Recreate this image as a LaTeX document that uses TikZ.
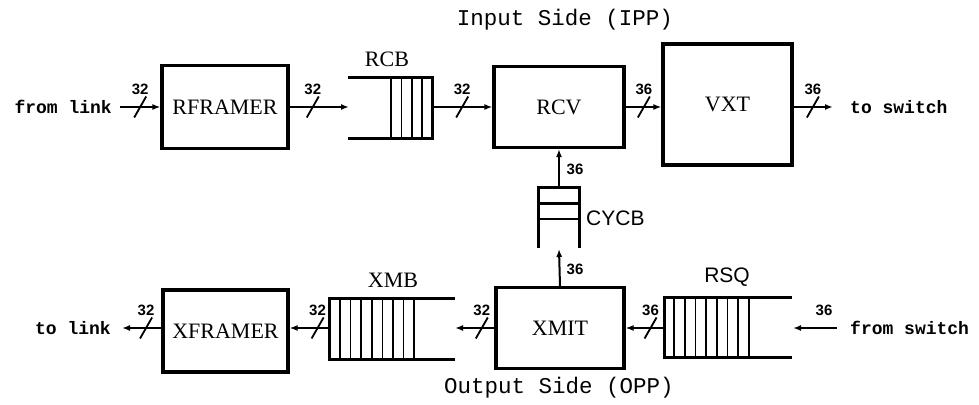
\documentclass[tikz,border=0pt]{standalone}
\usepackage{fontspec}
\setmainfont{Liberation Serif}
\newfontfamily\numfont{Liberation Sans}
\newfontfamily\monofont{Liberation Mono}
\usetikzlibrary{arrows.meta}
\tikzset{
  blk/.style={draw, line width=3.2pt, inner sep=0pt, font=\fontsize{22}{24}\selectfont},
  conn/.style={line width=2pt, -{Latex[length=8pt,width=6pt]}},
  qst/.style={line width=3pt},
  qinst/.style={line width=1.7pt},
  slashst/.style={line width=1.8pt},
  num/.style={font=\numfont\bfseries\fontsize{15}{16}\selectfont, inner sep=0pt},
  io/.style={font=\monofont\bfseries\fontsize{18}{20}\selectfont, inner sep=0pt},
  ttl/.style={font=\monofont\fontsize{22.5}{24}\selectfont, inner sep=0pt},
  qlabel/.style={font=\fontsize{22}{24}\selectfont, inner sep=0pt},
  qlabelsf/.style={font=\numfont\fontsize{21}{23}\selectfont, inner sep=0pt}
}
\newcommand\busmark[2]{%
  \draw[slashst] ([shift={(-6,10.5)}]#1) -- ([shift={(6,-10.5)}]#1);
  \node[num] (#1l) at ([shift={(0,-18)}]#1) {#2};}
\begin{document}
\begin{tikzpicture}[x=1pt,y=-1pt]
\useasboundingbox (0,0) rectangle (979,404);

% titles
\node[ttl] (tin) at (565,20) {Input Side (IPP)};
\node[ttl] (tout) at (559,388) {Output Side (OPP)};

% blocks
\node[blk, minimum width=126pt, minimum height=83pt] (rframer) at (225,107) {RFRAMER};
\node[blk, minimum width=130pt, minimum height=81pt] (rcv) at (559,107) {RCV};
\node[blk, minimum width=129pt, minimum height=121pt] (vxt) at (727.5,104.5) {VXT};
\node[blk, minimum width=125pt, minimum height=82pt] (xframer) at (225.5,331) {XFRAMER};
\node[blk, minimum width=128pt, minimum height=81pt] (xmit) at (560,328) {XMIT};

% RCB queue
\draw[qst] (348,77) -- (432,77) -- (432,138) -- (348,138);
\foreach \x in {391,401.5,412,422} \draw[qinst] (\x,77) -- (\x,138);
\coordinate (rcbin) at (349,107);
\coordinate (rcbout) at (432,107);
\node[qlabel] (rcblbl) at (387,59) {RCB};

% CYCB queue
\draw[qst] (538,248) -- (538,187) -- (579,187) -- (579,248);
\draw[qst] (538,203) -- (579,203);
\draw[qinst] (538,219) -- (579,219);
\coordinate (cycbtop) at (559,187);
\coordinate (cycbin) at (559,249);
\node[qlabelsf, anchor=west] (cycblbl) at (586,218) {CYCB};

% XMB queue
\draw[qst] (455,298) -- (329,298) -- (329,359) -- (455,359);
\foreach \i in {0,...,7} \draw[qinst] (340+10.6*\i,298) -- (340+10.6*\i,359);
\coordinate (xmbin) at (455,328);
\coordinate (xmbout) at (329,328);
\node[qlabel] (xmblbl) at (393,280) {XMB};

% RSQ queue
\draw[qst] (792,297) -- (664,297) -- (664,357) -- (792,357);
\foreach \i in {0,...,7} \draw[qinst] (674+10.7*\i,297) -- (674+10.7*\i,357);
\coordinate (rsqin) at (793,328);
\coordinate (rsqout) at (664,328);
\node[qlabelsf] (rsqlbl) at (727,277) {RSQ};

% external texts
\node[io, anchor=east] (fromlink) at (112,107) {from link};
\node[io, anchor=west] (toswitch) at (850,107) {to switch};
\node[io, anchor=east] (tolink) at (111,328) {to link};
\node[io, anchor=west] (fromswitch) at (850,328) {from switch};

% input side connectors
\draw[conn] ([xshift=8pt]fromlink.east) -- (rframer.west |- fromlink.east) coordinate[pos=.5] (b1);
\busmark{b1}{32}
\draw[conn] (rframer.east) -- (rcbin) coordinate[pos=.39] (b2);
\busmark{b2}{32}
\draw[conn] (rcbout) -- (rcv.west |- rcbout) coordinate[pos=.5] (b3);
\busmark{b3}{32}
\draw[conn] (rcv.east) -- (vxt.west |- rcv.east) coordinate[pos=.51] (b4);
\busmark{b4}{36}
\draw[conn] (vxt.east |- rcv.east) -- ([xshift=-17pt]toswitch.west) coordinate[pos=.49] (b5);
\busmark{b5}{36}

% vertical connectors
\draw[conn] (cycbtop) -- (rcv.south);
\node[num] (l6) at (575,169) {36};
\draw[conn] (xmit.north) -- (cycbin);
\node[num] (l7) at (575,269) {36};

% output side connectors
\draw[conn] (xmit.west |- xmbin) -- (xmbin) coordinate[pos=.32] (b8);
\busmark{b8}{32}
\draw[conn] (xmbout) -- (xframer.east |- xmbout) coordinate[pos=.29] (b9);
\busmark{b9}{32}
\draw[conn] (xframer.west |- xmbout) -- ([xshift=11pt]tolink.east) coordinate[pos=.39] (b10);
\busmark{b10}{32}
\draw[conn] (rsqout) -- (xmit.east |- rsqout) coordinate[pos=.35] (b11);
\busmark{b11}{36}
\draw[conn] ([xshift=-13pt]fromswitch.west) -- (rsqin);
\node[num] (l12) at (824,310) {36};
\end{tikzpicture}
\end{document}
